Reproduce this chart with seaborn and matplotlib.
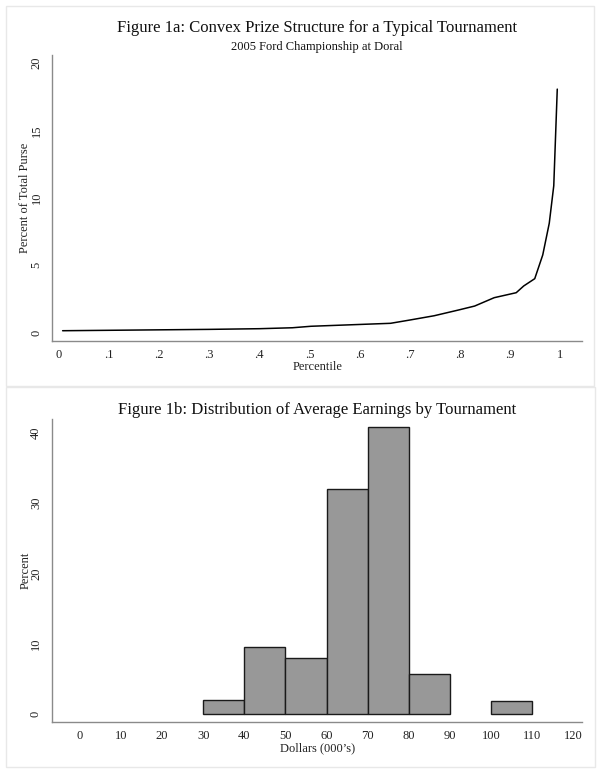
import numpy as np
import pandas as pd
import seaborn as sns
import matplotlib
matplotlib.use("Agg")
import matplotlib.pyplot as plt
from matplotlib.patches import Rectangle

# prize share curve
pctile = [0.007, 0.30, 0.40, 0.466, 0.503, 0.662, 0.700, 0.749, 0.797, 0.830,
          0.869, 0.913, 0.928, 0.950, 0.966, 0.979, 0.988, 0.995]
purse_share = [0.15, 0.25, 0.30, 0.37, 0.48, 0.70, 0.94, 1.26, 1.68, 1.98,
               2.60, 2.97, 3.47, 4.01, 5.77, 8.12, 10.9, 18.07]

# histogram of average earnings (bin lower edges, percent)
bin_lo = [30, 40, 50, 60, 70, 80, 100]
bin_pct = [2.0, 9.6, 8.0, 32.0, 40.8, 5.7, 1.9]
edges = list(range(30, 120, 10))

xticks_a = [0, .1, .2, .3, .4, .5, .6, .7, .8, .9, 1]
xticklabels_a = ["0", ".1", ".2", ".3", ".4", ".5", ".6", ".7", ".8", ".9", "1"]
yticks_a = [0, 5, 10, 15, 20]
xticks_b = list(range(0, 130, 10))
yticks_b = [0, 10, 20, 30, 40]

sns.set_style("white")
plt.rcParams["font.family"] = ["Liberation Serif", "DejaVu Serif"]

W, H = 601, 774
fig = plt.figure(figsize=(W / 100, H / 100), dpi=100)
fig.patch.set_facecolor("white")

def px_axes(l, t, r, b):
    return fig.add_axes([l / W, 1 - b / H, (r - l) / W, (b - t) / H])

def style(ax):
    sns.despine(ax=ax)
    for s in ["left", "bottom"]:
        ax.spines[s].set_color("#8a8a8a")
        ax.spines[s].set_linewidth(1.0)
    ax.tick_params(axis="both", direction="out", length=4, width=0.8,
                   color="#8a8a8a", labelsize=9, labelcolor="#222222", pad=2)
    ax.tick_params(axis="y", labelrotation=90, pad=3)
    for lab in ax.get_yticklabels():
        lab.set_va("center")
    ax.set_xlabel("")
    ax.set_ylabel("")
    ax.grid(False)

# panel frames
for (l, t, r, b) in [(6, 6, 594, 386), (6, 387, 595, 767)]:
    fig.add_artist(Rectangle((l / W, 1 - b / H), (r - l) / W, (b - t) / H,
                             transform=fig.transFigure, fill=False,
                             edgecolor="#e8e8e8", linewidth=1.0))

# Figure 1a
ax1 = px_axes(52.3, 55, 582.3, 340.7)
df_a = pd.DataFrame({"pctile": pctile, "share": purse_share})
sns.lineplot(data=df_a, x="pctile", y="share", ax=ax1, color="black",
             linewidth=1.1, estimator=None, sort=True)
ax1.set_xlim(-0.0136, 1.045)
ax1.set_ylim(-0.59, 20.6)
ax1.set_xticks(xticks_a)
ax1.set_xticklabels(xticklabels_a)
ax1.set_yticks(yticks_a)
style(ax1)

cx = (52.3 + 582.3) / 2 / W
fig.text(cx, 1 - 32.3 / H, "Figure 1a: Convex Prize Structure for a Typical Tournament",
         ha="center", va="baseline", fontsize=12, color="#111111")
fig.text(cx, 1 - 50 / H, "2005 Ford Championship at Doral",
         ha="center", va="baseline", fontsize=9, color="#111111")
fig.text(cx, 1 - 370.5 / H, "Percentile", ha="center", va="baseline",
         fontsize=9, color="#222222")
fig.text(25.5 / W, 1 - 197.8 / H, "Percent of Total Purse", rotation=90,
         ha="center", va="center", fontsize=9, color="#222222")

# Figure 1b
ax2 = px_axes(51.7, 419.3, 581.7, 721.7)
df_b = pd.DataFrame({"mid": [b + 5 for b in bin_lo], "pct": bin_pct})
sns.histplot(data=df_b, x="mid", weights="pct", bins=edges, ax=ax2,
             color="#989898", edgecolor="#1a1a1a", linewidth=1.0, alpha=1)
for p in list(ax2.patches):
    if p.get_height() == 0:
        p.remove()
ax2.set_xlim(-6.8, 122.0)
ax2.set_ylim(-1.05, 41.9)
ax2.set_xticks(xticks_b)
ax2.set_yticks(yticks_b)
style(ax2)

fig.text(cx, 1 - 414 / H, "Figure 1b: Distribution of Average Earnings by Tournament",
         ha="center", va="baseline", fontsize=12, color="#111111")
fig.text(cx, 1 - 751 / H, "Dollars (000\u2019s)", ha="center", va="baseline",
         fontsize=9, color="#222222")
fig.text(25.5 / W, 1 - 570.5 / H, "Percent", rotation=90,
         ha="center", va="center", fontsize=9, color="#222222")

fig.savefig("out.png", dpi=100, facecolor="white")
